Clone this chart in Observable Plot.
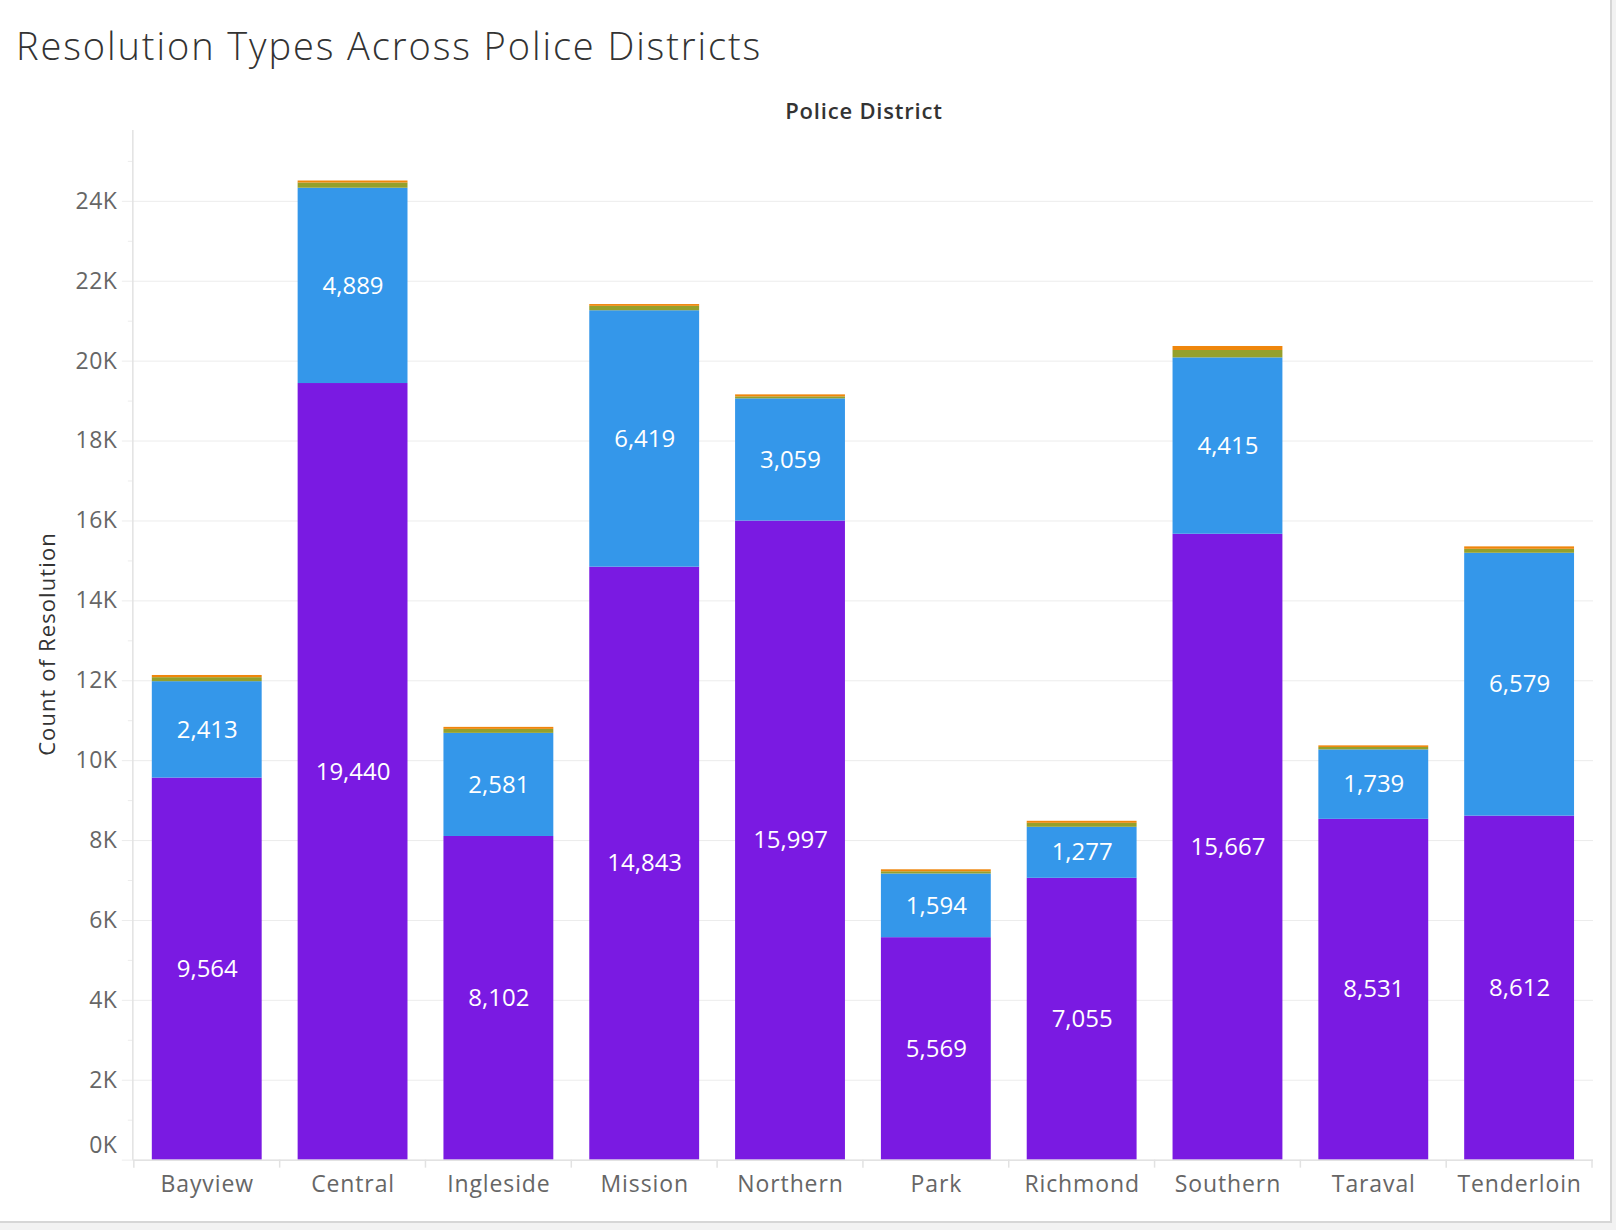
<!DOCTYPE html>
<html>
<head>
<meta charset="utf-8">
<script src="https://cdn.jsdelivr.net/npm/d3@7"></script>
<script src="https://cdn.jsdelivr.net/npm/@observablehq/plot@0.6"></script>
<style>
  html, body { margin: 0; padding: 0; background: #f2f2f2; }
  #page { position: relative; width: 1610px; height: 1221px; background: #fff;
          border-right: 2px solid #d6d6d6; border-bottom: 2px solid #d6d6d6; overflow: hidden;
          font-family: "Open Sans", sans-serif; }
  #title { position: absolute; left: 16px; top: 26px; font-size: 38px; line-height: 38px;
           font-weight: 300; color: #333; white-space: nowrap; letter-spacing: 1.9px; }
  #xhead { position: absolute; left: 133px; width: 1462px; top: 99px; text-align: center;
           font-size: 22px; line-height: 22px; font-weight: 600; color: #333; z-index: 2; letter-spacing: 0.8px; }
  #ylab { position: absolute; left: 46px; top: 644px; width: 400px; text-align: center;
          transform: translate(-50%, -50%) rotate(-90deg); font-size: 22px; line-height: 22px;
          font-weight: 500; color: #333; z-index: 2; letter-spacing: 1.1px; }
  #chart { position: absolute; left: 0; top: 80px; }
  #chart g[aria-label="x-axis tick label"] text { letter-spacing: 0.9px; }
  #chart g[aria-label="y-axis tick label"] text { letter-spacing: 0.5px; }
</style>
</head>
<body>
<div id="page">
  <div id="title">Resolution Types Across Police Districts</div>
  <div id="xhead">Police District</div>
  <div id="ylab">Count of Resolution</div>
  <div id="chart"></div>
</div>
<script>
const districts = ["Bayview","Central","Ingleside","Mission","Northern","Park","Richmond","Southern","Taraval","Tenderloin"];
const resolutionTypes = ["NONE","ARREST, BOOKED","ARREST, CITED","JUVENILE BOOKED"];
const noneCounts    = [9564, 19440, 8102, 14843, 15997, 5569, 7055, 15667, 8531, 8612];
const bookedCounts  = [2413, 4889, 2581, 6419, 3059, 1594, 1277, 4415, 1739, 6579];
const citedCounts   = [100, 130, 100, 110, 50, 55, 100, 185, 60, 100];
const juvenileCounts= [55, 50, 50, 45, 50, 50, 50, 100, 40, 60];
const typeColors = ["#7a1ae2","#3497ea","#95a02b","#ef860c"];
const labeledTypes = ["NONE","ARREST, BOOKED"];
const yMajorTicks = [0,2000,4000,6000,8000,10000,12000,14000,16000,18000,20000,22000,24000];
const yMinorTicks = [1000,3000,5000,7000,9000,11000,13000,15000,17000,19000,21000,23000,25000];
const yMax = 25775;

const seriesByType = [noneCounts, bookedCounts, citedCounts, juvenileCounts];
const rows = [];
districts.forEach((d, i) => {
  resolutionTypes.forEach((t, j) => rows.push({district: d, type: t, count: seriesByType[j][i]}));
});

const W = 1612, H = 1143, mT = 50, mB = 62, mL = 133, mR = 17;
const fmt = d3.format(",");
const gridColor = "#ececec", axisColor = "#e2e2e2";

const plot = Plot.plot({
  width: W, height: H,
  marginTop: mT, marginBottom: mB, marginLeft: mL, marginRight: mR,
  style: {fontFamily: "'Open Sans', sans-serif", fontSize: "23px", color: "#666", background: "transparent", overflow: "visible"},
  x: {domain: districts, paddingInner: 0.25, paddingOuter: 0.125},
  y: {domain: [0, yMax]},
  color: {domain: resolutionTypes, range: typeColors},
  marks: [
    Plot.gridY({ticks: yMajorTicks, stroke: gridColor, strokeOpacity: 1}),
    Plot.axisY({ticks: yMajorTicks, tickSize: 11, tickFormat: () => "", stroke: gridColor, strokeOpacity: 1, label: null}),
    Plot.axisY({ticks: yMinorTicks, tickSize: 5, tickFormat: () => "", stroke: gridColor, strokeOpacity: 1, label: null}),
    Plot.axisY({ticks: yMajorTicks.filter(v => v > 0), tickSize: 0, tickPadding: 16, tickFormat: v => v / 1000 + "K", fill: "#666", fontSize: 23, label: null}),
    Plot.axisY({ticks: [0], tickSize: 0, tickPadding: 16, dy: -15, tickFormat: v => v / 1000 + "K", fill: "#666", fontSize: 23, label: null}),
    Plot.axisX({tickSize: 0, tickPadding: 16, fill: "#666", fontSize: 23, label: null}),
    Plot.barY(rows, {x: "district", y: "count", fill: "type", order: resolutionTypes}),
    Plot.text(rows, Plot.stackY({x: "district", y: "count", z: "type", order: resolutionTypes,
      text: d => labeledTypes.includes(d.type) ? fmt(d.count) : "",
      fill: "white", fontSize: 24})),
    Plot.ruleY([0], {stroke: axisColor, strokeWidth: 1.5})
  ]
});

// axis line on the left and band-boundary ticks under the x axis, from the Plot scale
const xs = plot.scale("x");
const gap = (xs.step - xs.bandwidth) / 2;
const bounds = districts.map(d => xs.apply(d) - gap).concat([xs.apply(districts[districts.length - 1]) + xs.bandwidth + gap]);
const g = d3.select(plot).append("g").attr("stroke", axisColor).attr("stroke-width", 1.5);
g.append("line").attr("x1", mL).attr("x2", mL).attr("y1", mT).attr("y2", H - mB);
g.selectAll("line.b").data(bounds).join("line").attr("class", "b")
  .attr("x1", d => d).attr("x2", d => d).attr("y1", H - mB).attr("y2", H - mB + 8);

document.getElementById("chart").appendChild(plot);
</script>
</body>
</html>
